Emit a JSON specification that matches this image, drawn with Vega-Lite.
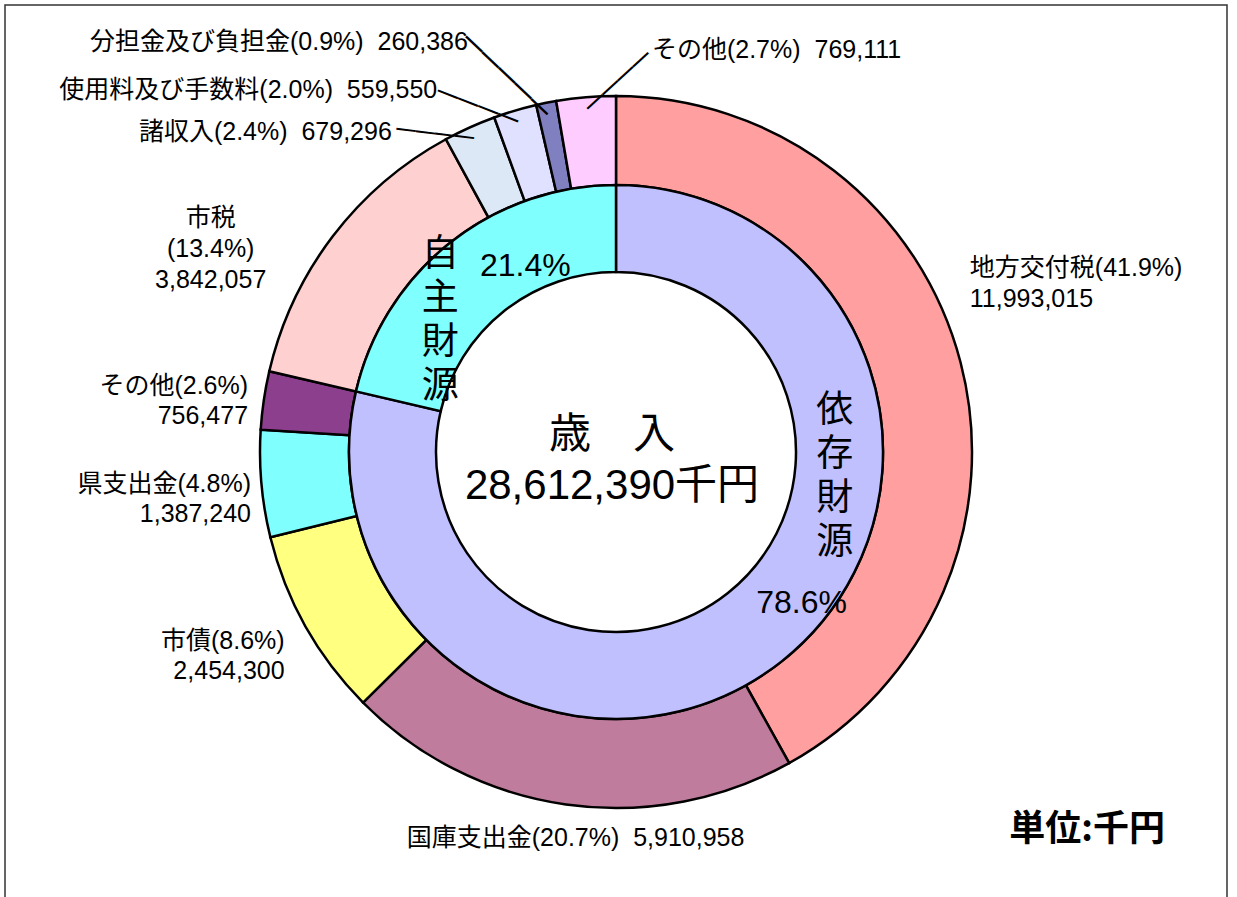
{
  "$schema": "https://vega.github.io/schema/vega-lite/v6.json",
  "width": 1222,
  "height": 894,
  "autosize": {"type": "none"},
  "padding": {"left": 5, "top": 5, "right": 10, "bottom": -2},
  "background": "white",
  "view": {"stroke": "#333", "strokeWidth": 1.5, "fill": "white"},
  "config": {
    "view": {"stroke": "#333", "strokeWidth": 1.5},
    "text": {"font": "Liberation Sans, Noto Sans CJK JP", "color": "#000"}
  },
  "title": {
    "text": "単位:千円",
    "orient": "bottom",
    "anchor": "end",
    "offset": -86,
    "dx": -62,
    "font": "Noto Sans CJK JP",
    "fontSize": 36,
    "fontWeight": "bold",
    "color": "#000"
  },
  "data": {
    "values": [
      {"ord": 1, "cat": "地方交付税", "group": "依存財源", "value": 11993015, "label": ["地方交付税(41.9%)", "11,993,015"]},
      {"ord": 2, "cat": "国庫支出金", "group": "依存財源", "value": 5910958, "label": "国庫支出金(20.7%)\u00a0\u00a05,910,958"},
      {"ord": 3, "cat": "市債", "group": "依存財源", "value": 2454300, "label": ["市債(8.6%)", "2,454,300"]},
      {"ord": 4, "cat": "県支出金", "group": "依存財源", "value": 1387240, "label": ["県支出金(4.8%)", "1,387,240"]},
      {"ord": 5, "cat": "その他", "group": "依存財源", "value": 756477, "label": ["その他(2.6%)", "756,477"]},
      {"ord": 6, "cat": "市税", "group": "自主財源", "value": 3842057, "label": ["市税", "(13.4%)", "3,842,057"]},
      {"ord": 7, "cat": "諸収入", "group": "自主財源", "value": 679296, "label": "諸収入(2.4%)\u00a0\u00a0679,296"},
      {"ord": 8, "cat": "使用料及び手数料", "group": "自主財源", "value": 559550, "label": "使用料及び手数料(2.0%)\u00a0\u00a0559,550"},
      {"ord": 9, "cat": "分担金及び負担金", "group": "自主財源", "value": 260386, "label": "分担金及び負担金(0.9%)\u00a0\u00a0260,386"},
      {"ord": 10, "cat": "その他", "group": "自主財源", "value": 769111, "label": "その他(2.7%)\u00a0\u00a0769,111"}
    ]
  },
  "encoding": {
    "theta": {"field": "value", "type": "quantitative", "stack": true},
    "order": {"field": "ord", "type": "quantitative"},
    "detail": {"field": "ord", "type": "nominal"}
  },
  "layer": [
    {
      "mark": {"type": "arc", "radius": 356, "radius2": 267, "stroke": "#000", "strokeWidth": 2.5},
      "encoding": {
        "color": {
          "field": "ord", "type": "nominal", "legend": null,
          "scale": {
            "domain": [1, 2, 3, 4, 5, 6, 7, 8, 9, 10],
            "range": ["#ff9f9f", "#c07c9c", "#ffff80", "#80ffff", "#8c3f8c", "#ffd0d0", "#dde8f7", "#e0e0ff", "#8080c0", "#ffccff"]
          }
        }
      }
    },
    {
      "transform": [{"aggregate": [{"op": "sum", "field": "value", "as": "value"}, {"op": "min", "field": "ord", "as": "ord"}], "groupby": ["group"]}],
      "mark": {"type": "arc", "radius": 267, "radius2": 180, "stroke": "#000", "strokeWidth": 2.5},
      "encoding": {
        "color": {
          "field": "group", "type": "nominal", "legend": null,
          "scale": {"domain": ["依存財源", "自主財源"], "range": ["#c0c0ff", "#80ffff"]}
        }
      }
    },
    {
      "mark": {"type": "text", "radius": 380, "align": "left", "baseline": "top", "dx": -14, "dy": -101, "fontSize": 25, "lineHeight": 31},
      "encoding": {"text": {"condition": {"test": "datum.ord === 1", "field": "label"}, "value": ""}}
    },
    {
      "mark": {"type": "text", "radius": 380, "align": "center", "baseline": "middle", "dx": 13, "dy": 10, "fontSize": 25},
      "encoding": {"text": {"condition": {"test": "datum.ord === 2", "field": "label"}, "value": ""}}
    },
    {
      "mark": {"type": "text", "radius": 380, "align": "right", "baseline": "top", "dx": 0, "dy": -8.5, "fontSize": 25, "lineHeight": 30},
      "encoding": {"text": {"condition": {"test": "datum.ord === 3", "field": "label"}, "value": ""}}
    },
    {
      "mark": {"type": "text", "radius": 380, "align": "right", "baseline": "top", "dx": 13.5, "dy": -13.5, "fontSize": 25, "lineHeight": 30},
      "encoding": {"text": {"condition": {"test": "datum.ord === 4", "field": "label"}, "value": ""}}
    },
    {
      "mark": {"type": "text", "radius": 380, "align": "right", "baseline": "top", "dx": 8, "dy": -22.5, "fontSize": 25, "lineHeight": 30},
      "encoding": {"text": {"condition": {"test": "datum.ord === 5", "field": "label"}, "value": ""}}
    },
    {
      "mark": {"type": "text", "radius": 380, "align": "center", "baseline": "top", "dx": -103, "dy": -16, "fontSize": 25, "lineHeight": 31},
      "encoding": {"text": {"condition": {"test": "datum.ord === 6", "field": "label"}, "value": ""}}
    },
    {
      "mark": {"type": "text", "radius": 380, "align": "right", "baseline": "middle", "dx": -68, "dy": 26, "fontSize": 25},
      "encoding": {"text": {"condition": {"test": "datum.ord === 7", "field": "label"}, "value": ""}}
    },
    {
      "mark": {"type": "text", "radius": 380, "align": "right", "baseline": "middle", "dx": -71, "dy": 2, "fontSize": 25},
      "encoding": {"text": {"condition": {"test": "datum.ord === 8", "field": "label"}, "value": ""}}
    },
    {
      "mark": {"type": "text", "radius": 380, "align": "right", "baseline": "middle", "dx": -73.5, "dy": -37.5, "fontSize": 25},
      "encoding": {"text": {"condition": {"test": "datum.ord === 9", "field": "label"}, "value": ""}}
    },
    {
      "mark": {"type": "text", "radius": 380, "align": "left", "baseline": "middle", "dx": 68, "dy": -23.5, "fontSize": 25},
      "encoding": {"text": {"condition": {"test": "datum.ord === 10", "field": "label"}, "value": ""}}
    },
    {
      "mark": {"type": "text", "radius": 345, "align": "left", "baseline": "middle", "angle": -42.6, "fontSize": 20.7, "fontWeight": "bold", "font": "Liberation Sans"},
      "encoding": {"text": {"condition": {"test": "datum.ord === 10", "value": "————"}, "value": ""}}
    },
    {
      "mark": {"type": "text", "radius": 345, "align": "right", "baseline": "middle", "angle": 43.6, "fontSize": 22.6, "fontWeight": "bold", "font": "Liberation Sans"},
      "encoding": {"text": {"condition": {"test": "datum.ord === 9", "value": "—————"}, "value": ""}}
    },
    {
      "mark": {"type": "text", "radius": 345, "align": "right", "baseline": "middle", "angle": 21.2, "fontSize": 21.5, "fontWeight": "bold", "font": "Liberation Sans"},
      "encoding": {"text": {"condition": {"test": "datum.ord === 8", "value": "————"}, "value": ""}}
    },
    {
      "mark": {"type": "text", "radius": 345, "align": "right", "baseline": "middle", "angle": 6.9, "fontSize": 19.6, "fontWeight": "bold", "font": "Liberation Sans"},
      "encoding": {"text": {"condition": {"test": "datum.ord === 7", "value": "————"}, "value": ""}}
    },
    {
      "transform": [{"aggregate": [{"op": "sum", "field": "value", "as": "value"}, {"op": "min", "field": "ord", "as": "ord"}], "groupby": ["group"]}],
      "mark": {"type": "text", "radius": 223, "align": "center", "baseline": "middle", "dx": 47, "dy": -24, "fontSize": 32},
      "encoding": {"text": {"condition": {"test": "datum.group === '依存財源'", "value": "78.6%"}, "value": ""}}
    },
    {
      "transform": [{"aggregate": [{"op": "sum", "field": "value", "as": "value"}, {"op": "min", "field": "ord", "as": "ord"}], "groupby": ["group"]}],
      "mark": {"type": "text", "radius": 223, "align": "center", "baseline": "middle", "dx": 48, "dy": -11, "fontSize": 32},
      "encoding": {"text": {"condition": {"test": "datum.group === '自主財源'", "value": "21.4%"}, "value": ""}}
    },
    {
      "transform": [{"aggregate": [{"op": "sum", "field": "value", "as": "value"}, {"op": "min", "field": "ord", "as": "ord"}], "groupby": ["group"]}],
      "mark": {"type": "text", "radius": 223, "align": "center", "baseline": "top", "dx": 80, "dy": -233.7, "fontSize": 37, "lineHeight": 44},
      "encoding": {"text": {"condition": {"test": "datum.group === '依存財源'", "value": ["依", "存", "財", "源"]}, "value": ""}}
    },
    {
      "transform": [{"aggregate": [{"op": "sum", "field": "value", "as": "value"}, {"op": "min", "field": "ord", "as": "ord"}], "groupby": ["group"]}],
      "mark": {"type": "text", "radius": 223, "align": "center", "baseline": "top", "dx": -37, "dy": -40.3, "fontSize": 37, "lineHeight": 44},
      "encoding": {"text": {"condition": {"test": "datum.group === '自主財源'", "value": ["自", "主", "財", "源"]}, "value": ""}}
    },
    {
      "transform": [
        {"aggregate": [{"op": "sum", "field": "value", "as": "value"}, {"op": "min", "field": "ord", "as": "ord"}]},
        {"calculate": "['歳　入', format(datum.value, ',') + '千円']", "as": "center"}
      ],
      "mark": {"type": "text", "radius": 0, "align": "center", "baseline": "top", "dx": -4, "dy": -37, "fontSize": 42, "lineHeight": 51},
      "encoding": {"text": {"field": "center", "type": "nominal"}}
    }
  ],
  "resolve": {"scale": {"color": "independent"}}
}
